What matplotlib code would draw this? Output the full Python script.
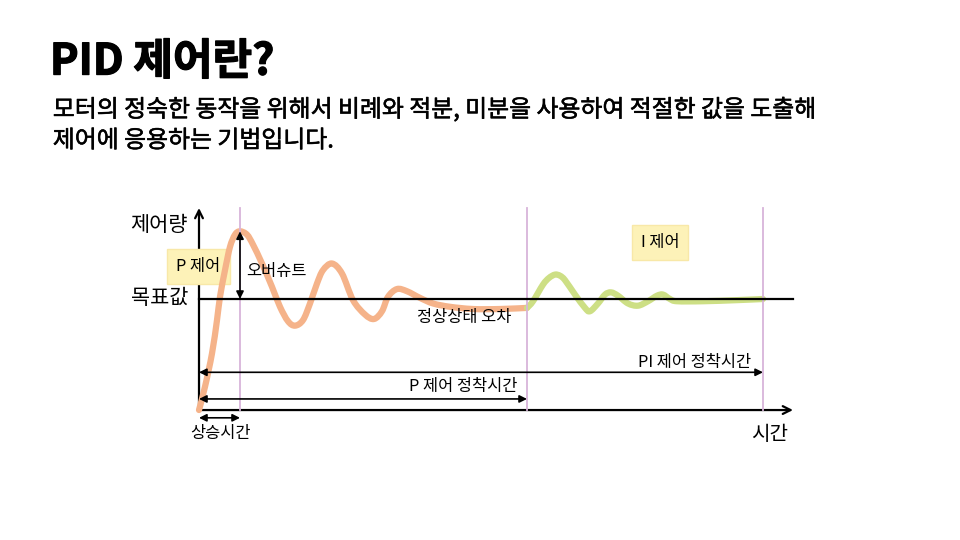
import numpy as np
import matplotlib.pyplot as plt
import matplotlib.patheffects as pe
from matplotlib.path import Path
from matplotlib.patches import PathPatch

plt.rcParams['font.family'] = ['Noto Sans CJK KR', 'DejaVu Sans']

# 응답 곡선 (시간: 임의 단위, 응답: 목표값 대비 %)
p_time = [0, 6, 13, 18, 21, 26, 31, 36, 41, 48, 54, 63, 73, 81, 89, 96,
          104, 111, 118, 124, 133, 143, 154, 166, 175, 183, 189, 198, 208,
          221, 234, 251, 274, 301, 328]
p_resp = [0, 21, 51, 81, 102, 126, 147, 158, 161, 158, 149, 132, 111, 93,
          80, 76, 81, 96, 114, 126, 132, 123, 99, 86, 82, 89, 102, 109, 107,
          101, 96, 93, 91, 91, 92]

pi_time = [328, 334, 344, 350, 356, 361, 366, 376, 386, 391, 399, 406, 412,
           419, 429, 439, 449, 458, 464, 471, 478, 504, 538, 564]
pi_resp = [92, 98, 113, 119, 122, 121, 117, 104, 92, 89, 96, 104, 106, 103,
           96, 94, 98, 103, 104, 100, 98, 98, 99, 100]

setpoint = 100
rise_time = 41
p_settle = 328
pi_settle = 564
t_end = 594
y_top = 182

title = 'PID 제어란?'
desc = ['모터의 정숙한 동작을 위해서 비례와 적분, 미분을 사용하여 적절한 값을 도출해',
        '제어에 응용하는 기법입니다.']


def smooth_path(xs, ys):
    # 읽은 점들을 지나는 베지어 경로
    pts = np.column_stack([xs, ys]).astype(float)
    ext = np.vstack([pts[0], pts, pts[-1]])
    verts = [pts[0]]
    codes = [Path.MOVETO]
    for i in range(len(pts) - 1):
        p0, p1, p2, p3 = ext[i], ext[i + 1], ext[i + 2], ext[i + 3]
        verts += [p1 + (p2 - p0) / 6, p2 - (p3 - p1) / 6, p2]
        codes += [Path.CURVE4] * 3
    return Path(verts, codes)


fig = plt.figure(figsize=(9.6, 5.4), dpi=100)
heavy = [pe.withStroke(linewidth=0.9, foreground='black')]
medium = [pe.withStroke(linewidth=0.4, foreground='black')]
fig.text(0.052, 0.886, title, fontsize=31, fontweight='bold', va='center',
         path_effects=heavy)
fig.text(0.055, 0.797, desc[0], fontsize=17.2, va='center', path_effects=medium)
fig.text(0.055, 0.739, desc[1], fontsize=17.2, va='center', path_effects=medium)

ax = fig.add_axes([109 / 960, 80 / 540, 700 / 960, 272 / 540])
ax.set_xlim(-90, 610)
ax.set_ylim(-45, 200)
ax.axis('off')

orange = '#F5B38A'
green = '#CDDF85'
purple = '#D8B4DA'

ax.add_patch(PathPatch(smooth_path(p_time, p_resp), fill=False, ec=orange,
                       lw=4.5, capstyle='round', joinstyle='round', zorder=2))
ax.add_patch(PathPatch(smooth_path(pi_time, pi_resp), fill=False, ec=green,
                       lw=4.5, capstyle='round', joinstyle='round', zorder=2))

for t in [rise_time, p_settle, pi_settle]:
    ax.plot([t, t], [0, y_top], color=purple, lw=1.3, zorder=3)

# 축
ax.annotate('', xy=(0, y_top), xytext=(0, 0),
            arrowprops=dict(arrowstyle='->', color='black', lw=1.6,
                            mutation_scale=14, shrinkA=0, shrinkB=0), zorder=1)
ax.annotate('', xy=(t_end, 0), xytext=(0, 0),
            arrowprops=dict(arrowstyle='->', color='black', lw=1.6,
                            mutation_scale=14, shrinkA=0, shrinkB=0), zorder=1)
ax.plot([0, t_end], [setpoint, setpoint], color='black', lw=1.6, zorder=3)

arrow_kw = dict(arrowstyle='<|-|>', color='black', lw=1.2,
                mutation_scale=11, shrinkA=0, shrinkB=0)
ax.annotate('', xy=(rise_time, 161), xytext=(rise_time, setpoint),
            arrowprops=arrow_kw, zorder=4)
ax.annotate('', xy=(0, 34), xytext=(pi_settle, 34), arrowprops=arrow_kw, zorder=4)
ax.annotate('', xy=(0, 10), xytext=(p_settle, 10), arrowprops=arrow_kw, zorder=4)
ax.annotate('', xy=(0, -7), xytext=(rise_time, -7), arrowprops=arrow_kw, zorder=4)

box = dict(boxstyle='square,pad=0.55', fc='#FDF2B8', ec='#F8E8A8', lw=1)
ax.text(-0.5, 129, 'P 제어', fontsize=11.8, ha='center', va='center',
        bbox=box, zorder=1.5)
ax.text(461, 151, 'I 제어', fontsize=11.8, ha='center', va='center',
        bbox=box, zorder=1.5)

ax.text(-11, 167, '제어량', fontsize=15, ha='right', va='center')
ax.text(-11, 101, '목표값', fontsize=15, ha='right', va='center')
ax.text(47, 125, '오버슈트', fontsize=11.8, ha='left', va='center')
ax.text(265, 83, '정상상태 오차', fontsize=11.8, ha='center', va='center')
ax.text(264, 21, 'P 제어 정착시간', fontsize=11.8, ha='center', va='center')
ax.text(496, 43, 'PI 제어 정착시간', fontsize=11.8, ha='center', va='center')
ax.text(21.5, -21, '상승시간', fontsize=11.8, ha='center', va='center')
ax.text(571, -22, '시간', fontsize=14.5, ha='center', va='center')

fig.savefig('out.png', dpi=100)
